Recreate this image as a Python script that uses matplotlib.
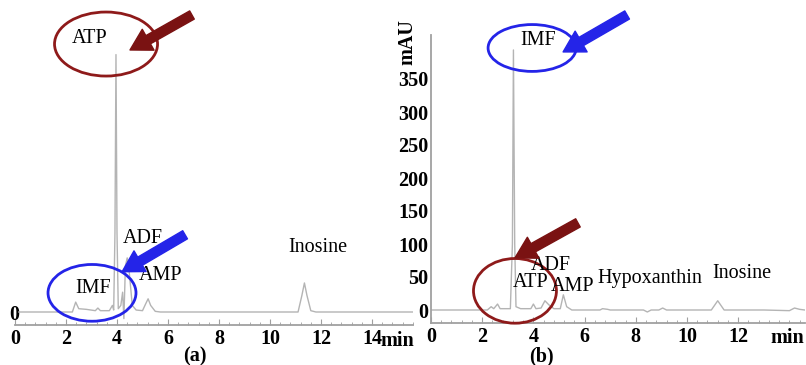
"""
HPLC chromatograms of nucleotides: (a) ATP dominant, (b) IMF dominant.
"""

import matplotlib.pyplot as plt
from matplotlib.patches import Ellipse
from matplotlib.ticker import MultipleLocator

W, H = 806, 365

SERIF = "Liberation Serif"
TRACE_COLOR = "#b4b4b4"
AXIS_COLOR = "#a0a0a0"
RED = "#8e1a1a"
DARK_RED = "#7a1212"
BLUE = "#2424e8"

# --- Data (retention time in min, absorbance in mAU) ---------------------

trace_a_t = [0.15, 2.25, 2.38, 2.5, 2.8, 3.15, 3.25, 3.35, 3.7, 3.82, 3.87,
             3.92, 3.96, 4.0, 4.05, 4.15, 4.22, 4.27, 4.33, 4.4, 4.48, 4.6,
             4.75, 5.0, 5.12, 5.22, 5.32, 5.5, 5.7, 11.1, 11.25, 11.35, 11.45,
             11.6, 11.8, 15.6]
trace_a_v = [0, 0, 15, 5, 4, 2, 6, 2, 2, 10, 3,
             120, 390, 120, 5, 10, 30, -10, 70, 82, 60, 10,
             3, 2, 12, 20, 10, 1, 0, 0, 25, 44, 25,
             2, 0, 0]

trace_b_t = [0.0, 2.2, 2.35, 2.45, 2.6, 2.7, 3.1, 3.18, 3.22, 3.27, 3.32,
             3.5, 3.9, 4.0, 4.1, 4.3, 4.45, 4.6, 4.8, 5.05, 5.17, 5.3, 5.5,
             6.6, 6.7, 6.9, 7.0, 8.3, 8.45, 8.6, 8.9, 9.05, 9.2, 10.95, 11.2,
             11.45, 13.0, 14.0, 14.2, 14.4, 14.6]
trace_b_v = [0, 0, 5, 2, 9, 2, 2, 100, 394, 100, 5,
             2, 2, 9, 2, 3, 14, 8, 2, 2, 23, 5, 0,
             0, 2, 1, 0, 0, -3, 0, 0, 3, 0, 0, 14,
             0, 0, -1, 3, 1, 0]

x_ticks_a = [0, 2, 4, 6, 8, 10, 12, 14]
x_ticks_b = [0, 2, 4, 6, 8, 10, 12]
y_ticks_b = [0, 50, 100, 150, 200, 250, 300, 350]

# peak labels: (text, time, mAU)
labels_a = [("ATP", 2.94, 415), ("IMF", 3.05, 36), ("ADF", 5.02, 112),
            ("AMP", 5.69, 55), ("Inosine", 11.88, 98)]
labels_b = [("IMF", 4.18, 408), ("ADF", 4.69, 67), ("ATP", 3.91, 41),
            ("AMP", 5.51, 35), ("Hypoxanthin", 8.55, 48), ("Inosine", 12.15, 56)]

# highlight circles: (centre t, centre v, width min, height mAU, colour)
circles_a = [(3.57, 406, 4.04, 97, RED), (3.02, 29, 3.45, 86, BLUE)]
circles_b = [(3.95, 397, 3.44, 71, BLUE), (3.28, 29, 3.24, 98, RED)]

# arrows: (tail t, tail v, tip t, tip v, colour)
arrows_a = [(6.94, 450, 4.51, 397, DARK_RED), (6.67, 117, 4.2, 61, BLUE)]
arrows_b = [(7.66, 447, 5.16, 391, BLUE), (5.74, 132, 3.28, 79, DARK_RED)]


# --- Helpers -------------------------------------------------------------

def px_axes(fig, x0, x1, ytop, ybot):
    return fig.add_axes([x0 / W, 1 - ybot / H, (x1 - x0) / W, (ybot - ytop) / H])


def style_axes(ax, x_ticks):
    for side in ("top", "right", "left"):
        ax.spines[side].set_visible(False)
    ax.spines["bottom"].set_color(AXIS_COLOR)
    ax.spines["bottom"].set_linewidth(1.3)
    ax.set_xticks(x_ticks)
    ax.xaxis.set_minor_locator(MultipleLocator(0.4))
    ax.tick_params(axis="x", which="major", direction="in", length=4,
                   color=AXIS_COLOR, pad=2.5)
    ax.tick_params(axis="x", which="minor", direction="in", length=2.5,
                   color=AXIS_COLOR)
    for lab in ax.get_xticklabels() + ax.get_yticklabels():
        lab.set_fontfamily(SERIF)
        lab.set_fontweight("bold")
        lab.set_fontsize(14.5)
    ax.patch.set_alpha(0)


def annotate_panel(ax, labels, circles, arrows):
    for text, t, v in labels:
        ax.text(t, v, text, family=SERIF, fontsize=14.5, ha="center",
                va="center", zorder=5)
    for t, v, w, h, color in circles:
        ax.add_patch(Ellipse((t, v), w, h, fill=False, edgecolor=color,
                             linewidth=2.0, zorder=4, clip_on=False))
    for t0, v0, t1, v1, color in arrows:
        ax.annotate("", xy=(t1, v1), xytext=(t0, v0), zorder=6,
                    annotation_clip=False,
                    arrowprops=dict(arrowstyle="simple,head_length=1.0,"
                                    "head_width=1.15,tail_width=0.45",
                                    mutation_scale=15, color=color,
                                    shrinkA=0, shrinkB=0))


# --- Figure --------------------------------------------------------------

fig = plt.figure(figsize=(W / 100, H / 100), dpi=100)

# (a): 25.5 px per min, 0.66 px per mAU, baseline at y=312 px
ax_a = px_axes(fig, 15, 15 + 15.6 * 25.5, 312 - 0.66 * 470, 312 + 0.66 * 20)
ax_a.set_xlim(0, 15.6)
ax_a.set_ylim(-20, 470)
ax_a.plot(trace_a_t, trace_a_v, color=TRACE_COLOR, linewidth=1.0)
ax_a.set_yticks([0])
ax_a.tick_params(axis="y", length=0, pad=-3)
style_axes(ax_a, x_ticks_a)
ax_a.text(15.0, -0.018, "min", transform=ax_a.get_xaxis_transform(),
          family=SERIF, fontweight="bold", fontsize=14.5, ha="center", va="top")
annotate_panel(ax_a, labels_a, circles_a, arrows_a)

# (b): 25.6 px per min, baseline at y=310 px
ax_b = px_axes(fig, 431, 431 + 14.6 * 25.6, 310 - 0.66 * 417, 310 + 0.66 * 20)
ax_b.set_xlim(0, 14.6)
ax_b.set_ylim(-20, 417)
ax_b.plot(trace_b_t, trace_b_v, color=TRACE_COLOR, linewidth=1.0)
ax_b.set_yticks(y_ticks_b)
ax_b.tick_params(axis="y", length=0, pad=2)
style_axes(ax_b, x_ticks_b)
ax_b.spines["left"].set_visible(True)
ax_b.spines["left"].set_color(AXIS_COLOR)
ax_b.spines["left"].set_linewidth(1.3)
ax_b.text(13.9, -0.018, "min", transform=ax_b.get_xaxis_transform(),
          family=SERIF, fontweight="bold", fontsize=14.5, ha="center", va="top")
annotate_panel(ax_b, labels_b, circles_b, arrows_b)

fig.text(407 / W, 1 - 42 / H, "mAU", rotation=90, family=SERIF,
         fontweight="bold", fontsize=14.5, ha="center", va="center")
fig.text(195 / W, 1 - 356 / H, "(a)", family=SERIF, fontweight="bold",
         fontsize=14.5, ha="center", va="center")
fig.text(541 / W, 1 - 356 / H, "(b)", family=SERIF, fontweight="bold",
         fontsize=14.5, ha="center", va="center")

fig.savefig("out.png", dpi=100)
